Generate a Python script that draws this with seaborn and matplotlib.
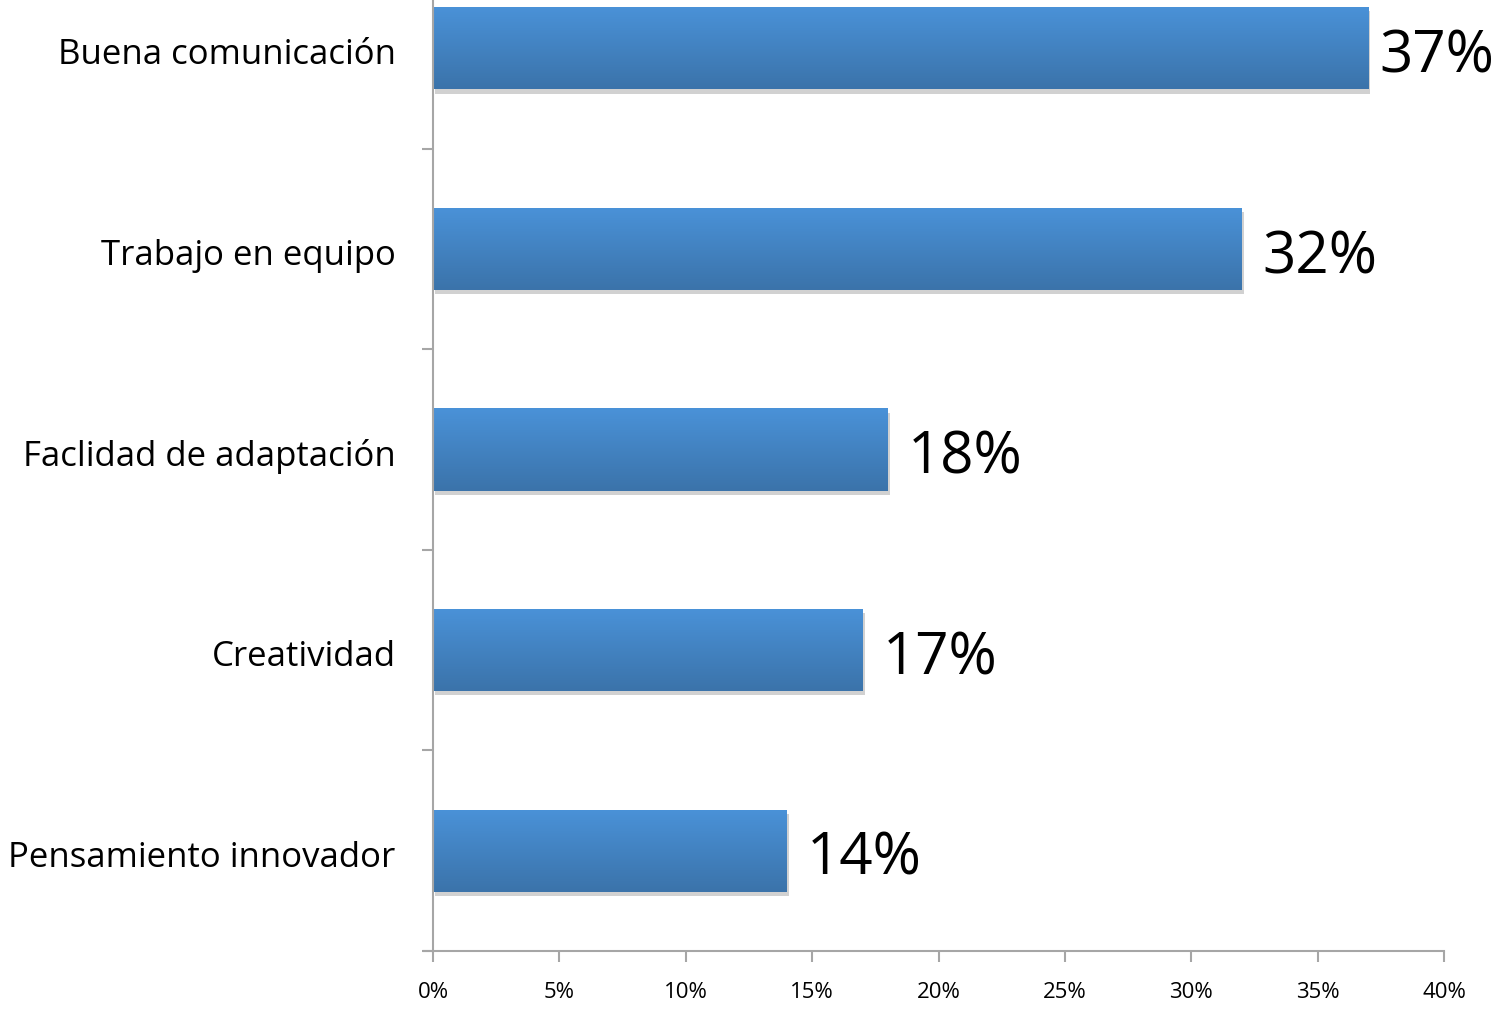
import numpy as np
import pandas as pd
import matplotlib
matplotlib.use("Agg")
import matplotlib.pyplot as plt
import matplotlib.patheffects as pe
from matplotlib.colors import LinearSegmentedColormap
import seaborn as sns

categorias = ["Buena comunicación", "Trabajo en equipo", "Faclidad de adaptación",
              "Creatividad", "Pensamiento innovador"]
valores = [37, 32, 18, 17, 14]
ticks_x = [0, 5, 10, 15, 20, 25, 30, 35, 40]

df = pd.DataFrame({"Categoria": categorias, "Valor": valores})

sns.set_style("white")
plt.rcParams["font.family"] = ["Open Sans", "DejaVu Sans"]

W, H = 1499, 1009
fig = plt.figure(figsize=(W / 100, H / 100), dpi=100)
# area del grafico: x 433..1444 px, y de -52 a 951 px (cortado arriba)
ax = fig.add_axes([433 / W, (H - 951) / H, (1444 - 433) / W, (951 + 52) / H])

sns.barplot(data=df, x="Valor", y="Categoria", orient="h", width=0.41,
            color="#4285c8", ax=ax)

gris = "#a6a6a6"
cmap = LinearSegmentedColormap.from_list("azul", ["#4a92d8", "#3b73aa"])
grad = np.linspace(0, 1, 256).reshape(-1, 1)
for bar in ax.patches:
    x0, y0 = bar.get_x(), bar.get_y()
    w, h = bar.get_width(), bar.get_height()
    bar.set_path_effects([pe.SimplePatchShadow(offset=(1.5, -3), shadow_rgbFace="#000000", alpha=0.18),
                          pe.Normal()])
    bar.set_edgecolor("none")
    im = ax.imshow(grad, cmap=cmap, aspect="auto", extent=[x0, x0 + w, y0 + h, y0],
                   zorder=bar.get_zorder() + 0.1, interpolation="bilinear")
    im.set_clip_path(bar)
    ax.text(min(x0 + w + 0.8, 37.45), y0 + h / 2 + 0.045, f"{w:.0f}%", va="center", ha="left",
            fontsize=42, color="black")

ax.set_xlim(0, 40)
ax.set_ylim(4.5, -0.5)
ax.set_xticks(ticks_x)
ax.set_xticklabels([f"{t}%" for t in ticks_x], fontsize=16, color="black")
ax.set_yticks(np.arange(len(categorias)) + 0.015)
ax.set_yticklabels(categorias, fontsize=25, color="black")
ax.set_xlabel("")
ax.set_ylabel("")

# marcas del eje y entre categorias
ax.set_yticks(np.arange(len(categorias)) + 0.5, minor=True)
ax.tick_params(axis="y", which="major", left=False, length=0, pad=27)
ax.tick_params(axis="y", which="minor", left=True, length=8, width=1.5, color=gris, direction="out")
ax.tick_params(axis="x", which="major", bottom=True, length=8, width=1.5, color=gris,
               direction="out", pad=14)

for s in ["top", "right"]:
    ax.spines[s].set_visible(False)
for s in ["left", "bottom"]:
    ax.spines[s].set_color(gris)
    ax.spines[s].set_linewidth(1.5)
ax.spines["bottom"].set_bounds(-0.35, 40)

fig.savefig("out.png", dpi=100)
